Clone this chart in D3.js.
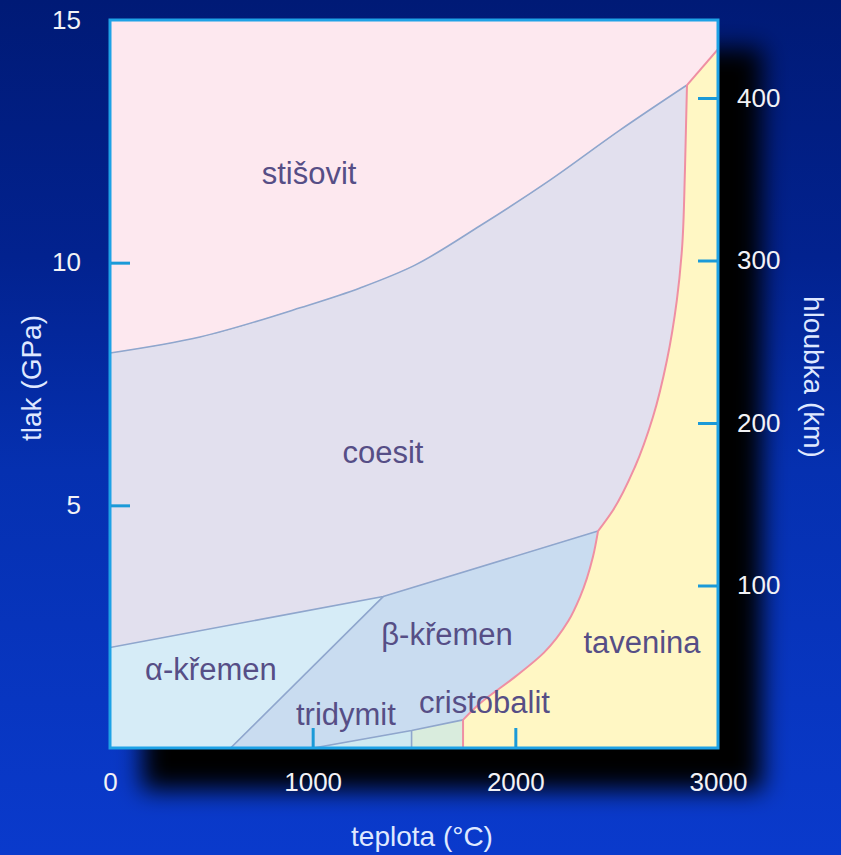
<!DOCTYPE html>
<html><head><meta charset="utf-8">
<script src="https://cdn.jsdelivr.net/npm/d3@7"></script>
<style>body{margin:0;background:#001a78}svg{display:block}</style>
</head><body>
<script>
// ---------- data ----------
const tempTicks = [0, 1000, 2000, 3000];
const tempTickMarks = [1000, 2000];
const pressureTicks = [5, 10, 15];
const pressureTickMarks = [5, 10];
const depthTicks = [100, 200, 300, 400];

// phase boundaries (teplota °C, tlak GPa)
const stishovitT = [0, 444, 938, 1234, 1505, 1826, 2171, 2516, 2847];
const stishovitP = [8.14, 8.47, 9.07, 9.48, 9.95, 10.76, 11.70, 12.73, 13.66];
const meltBaseT = [1742, 1742];
const meltBaseP = [0, 0.58];
const meltLowT = [1742, 1826, 2000, 2140, 2262, 2319, 2383, 2408];
const meltLowP = [0.58, 0.92, 1.47, 1.96, 2.62, 3.11, 3.94, 4.47];
const meltHighT = [2408, 2482, 2590, 2679, 2748, 2797, 2822, 2837, 2847];
const meltHighP = [4.47, 4.90, 5.79, 6.82, 7.99, 9.23, 10.26, 11.91, 13.66];
const meltTopT = [2847, 3000];
const meltTopP = [13.66, 14.40];
const coesitT = [0, 1348, 2408];
const coesitP = [2.07, 3.12, 4.47];
const alphaBetaT = [1348, 595];
const alphaBetaP = [3.12, 0];
const tridymitT = [1003, 1488, 1742];
const tridymitP = [0, 0.36, 0.58];
const cristoDivT = [1488, 1488];
const cristoDivP = [0, 0.36];

// phase labels
const phaseNames = ["stišovit", "coesit", "α-křemen", "β-křemen", "tavenina", "tridymit", "cristobalit"];
const phaseLabelT = [982, 1347, 498, 1663, 2625, 1164, 1848];
const phaseLabelP = [11.62, 5.87, 1.40, 2.12, 1.96, 0.47, 0.72];

// ---------- layout ----------
const W = 841, H = 855;
const L = 110, R = 718, T = 20, B = 748;
const x = d3.scaleLinear().domain([0, 3000]).range([L, R]);
const y = d3.scaleLinear().domain([0, 15]).range([B, T]);
const yDepth = d3.scaleLinear().domain([0, 448]).range([B, T]);

const svg = d3.select("body").append("svg").attr("width", W).attr("height", H);
const defs = svg.append("defs");
const bg = defs.append("linearGradient").attr("id", "bg").attr("x1", 0).attr("y1", 0).attr("x2", 0).attr("y2", 1);
[[0, "#001a76"], [0.3, "#02228f"], [0.55, "#0530b0"], [1, "#0a3acc"]].forEach(([o, c]) =>
  bg.append("stop").attr("offset", o).attr("stop-color", c));
defs.append("filter").attr("id", "sh").attr("x", "-20%").attr("y", "-20%").attr("width", "150%").attr("height", "150%")
  .append("feGaussianBlur").attr("stdDeviation", 12);
defs.append("clipPath").attr("id", "clip").append("rect")
  .attr("x", L).attr("y", T).attr("width", R - L).attr("height", B - T);

svg.append("rect").attr("width", W).attr("height", H).attr("fill", "url(#bg)");
svg.append("rect").attr("x", L + 32).attr("y", T + 28).attr("width", R - L + 12).attr("height", B - T + 14)
  .attr("fill", "#000").attr("filter", "url(#sh)");

// ---------- helpers ----------
const zip = (ts, ps) => ts.map((t, i) => [t, ps[i]]);
const cx = d3.curveMonotoneX;
const cy = d3.curveMonotoneY;
const lin = d3.curveLinear;
function seg(pts, curve) {
  return d3.line().x(d => x(d[0])).y(d => y(d[1])).curve(curve)(pts);
}
function joinPath(pieces) {
  return pieces.map((p, i) => i === 0 ? p : p.replace(/^M/, "L")).join("") + "Z";
}
const rev = a => a.slice().reverse();

const stish = zip(stishovitT, stishovitP);
const mBase = zip(meltBaseT, meltBaseP);
const mLow = zip(meltLowT, meltLowP);
const mHigh = zip(meltHighT, meltHighP);
const mTop = zip(meltTopT, meltTopP);
const coes = zip(coesitT, coesitP);
const ab = zip(alphaBetaT, alphaBetaP);
const trid = zip(tridymitT, tridymitP);
const cdiv = zip(cristoDivT, cristoDivP);

const regions = [
  { name: "stišovit", fill: "#fde8ef", d: joinPath([
      seg([[0, 15], [3000, 15], [3000, meltTopP[1]]], lin),
      seg(rev(mTop), lin), seg(rev(stish), cx)]) },
  { name: "coesit", fill: "#e2e0ee", d: joinPath([
      seg(stish, cx), seg(rev(mHigh), cy), seg(rev(coes), lin)]) },
  { name: "β-křemen", fill: "#c9dcf0", d: joinPath([
      seg(coes.slice(1), lin), seg(rev(mLow), cy), seg(rev(trid), lin), seg([[alphaBetaT[1], 0]], lin)]) },
  { name: "α-křemen", fill: "#d6ecf7", d: joinPath([
      seg([[0, 0], coes[0], coes[1], ab[1]], lin)]) },
  { name: "tridymit", fill: "#cfe9f1", d: joinPath([
      seg([trid[0], trid[1], [cristoDivT[0], 0]], lin)]) },
  { name: "cristobalit", fill: "#d9ecdd", d: joinPath([
      seg([[cristoDivT[0], 0], trid[1], trid[2], [meltBaseT[0], 0]], lin)]) },
  { name: "tavenina", fill: "#fff7c4", d: joinPath([
      seg(mBase, lin), seg(mLow, cy), seg(mHigh, cy), seg(mTop, lin), seg([[3000, 0]], lin)]) }
];

const plot = svg.append("g").attr("clip-path", "url(#clip)");
plot.selectAll("path.region").data(regions).join("path").attr("class", "region")
  .attr("d", d => d.d).attr("fill", d => d.fill).attr("stroke", d => d.fill).attr("stroke-width", 0.6);

const blueLines = [[stish, cx], [coes, lin], [ab, lin], [trid, lin], [cdiv, lin]];
plot.selectAll("path.bl").data(blueLines).join("path").attr("class", "bl")
  .attr("d", d => seg(d[0], d[1])).attr("fill", "none").attr("stroke", "#8fa6cd").attr("stroke-width", 1.6);
const pinkLines = [[mBase, lin], [mLow, cy], [mHigh, cy], [mTop, lin]];
plot.selectAll("path.pl").data(pinkLines).join("path").attr("class", "pl")
  .attr("d", d => seg(d[0], d[1])).attr("fill", "none").attr("stroke", "#ef8fa3").attr("stroke-width", 2)
  .attr("stroke-linejoin", "round");

// labels
svg.append("g").selectAll("text").data(phaseNames).join("text")
  .attr("x", (d, i) => x(phaseLabelT[i])).attr("y", (d, i) => y(phaseLabelP[i]))
  .attr("text-anchor", "middle").attr("font-family", "Liberation Sans, Arial, sans-serif")
  .attr("font-size", 31).attr("fill", "#564e86").text(d => d);

// frame
svg.append("rect").attr("x", L).attr("y", T).attr("width", R - L).attr("height", B - T)
  .attr("fill", "none").attr("stroke", "#1ea2e6").attr("stroke-width", 3);

// ---------- axes ----------
const tickColor = "#1b9ad8";
const fmt = d3.format("d");
function styleAxis(g) {
  g.select(".domain").remove();
  g.selectAll(".tick line").attr("stroke", tickColor).attr("stroke-width", 3);
  g.selectAll(".tick text").attr("fill", "#f2f2f6").attr("font-size", 26)
    .attr("font-family", "Liberation Sans, Arial, sans-serif");
}
svg.append("g").attr("transform", `translate(${L},0)`)
  .call(d3.axisLeft(y).tickValues(pressureTicks).tickFormat(fmt).tickSize(0).tickPadding(29)).call(styleAxis);
svg.append("g").attr("transform", `translate(${L + 1},0)`)
  .call(d3.axisLeft(y).tickValues(pressureTickMarks).tickSize(-19).tickFormat("")).call(styleAxis);
svg.append("g").attr("transform", `translate(0,${B})`)
  .call(d3.axisBottom(x).tickValues(tempTicks).tickFormat(fmt).tickSize(0).tickPadding(25)).call(styleAxis);
svg.append("g").attr("transform", `translate(0,${B - 1})`)
  .call(d3.axisBottom(x).tickValues(tempTickMarks).tickSize(-19).tickFormat("")).call(styleAxis);
svg.append("g").attr("transform", `translate(${R - 1},0)`)
  .call(d3.axisRight(yDepth).tickValues(depthTicks).tickFormat(fmt).tickSize(-19).tickPadding(20)).call(styleAxis);

// axis titles
const titleStyle = s => s.attr("font-family", "Liberation Sans, Arial, sans-serif").attr("font-size", 28)
  .attr("fill", "#dfe8ff").attr("text-anchor", "middle");
svg.append("text").attr("transform", "translate(41,378) rotate(-90)").call(titleStyle).text("tlak (GPa)");
svg.append("text").attr("transform", "translate(804,377) rotate(90)").call(titleStyle).text("hloubka (km)");
svg.append("text").attr("x", 422).attr("y", 846).call(titleStyle).text("teplota (°C)");
</script>
</body></html>
